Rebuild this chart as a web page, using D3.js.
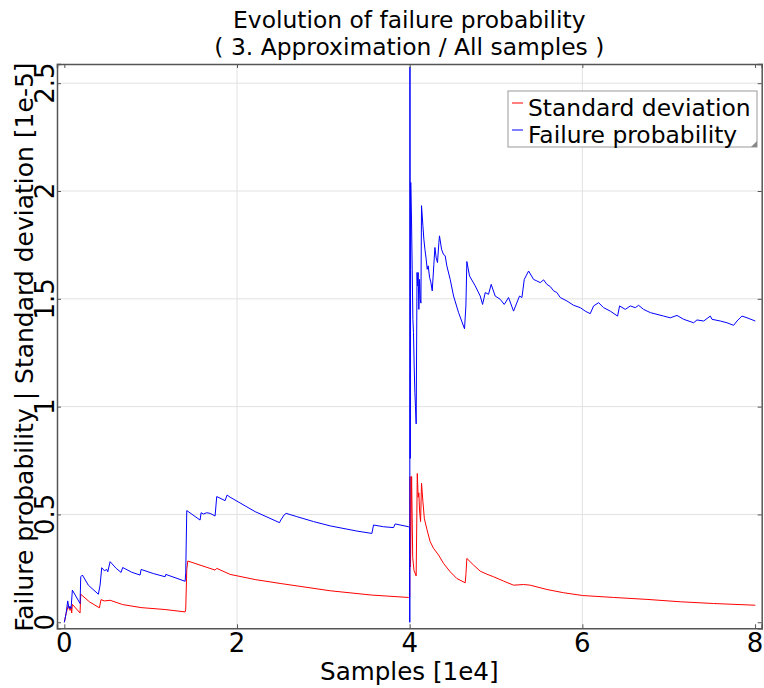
<!DOCTYPE html>
<html lang="en">
  <head>
    <meta charset="UTF-8" />
    <title>Evolution of failure probability</title>
    <style>
      body { margin: 0; background: #fff; }
      svg text { font-family: "DejaVu Sans", sans-serif; fill: #000; }
    </style>
  </head>
  <body>
    <svg width="764" height="688"></svg>

    <script src="https://cdn.jsdelivr.net/npm/d3@7"></script>

    <script>
      // samples [1e4] / value [1e-5]
      const failureX = [
        0, 0.02, 0.039, 0.054, 0.066, 0.078, 0.093, 0.182, 0.19, 0.209, 0.278, 0.394, 0.414, 0.433,
        0.464, 0.491, 0.503, 0.53, 0.6, 0.657, 0.676, 0.78, 0.877, 0.889, 1.03, 1.167, 1.175, 1.399,
        1.406, 1.418, 1.572, 1.584, 1.611, 1.65, 1.688, 1.746, 1.765, 1.862, 1.885, 1.92, 2.21, 2.492,
        2.507, 2.546, 2.569, 2.692, 2.886, 3.079, 3.388, 3.562, 3.581, 3.697, 3.813, 3.832, 3.986,
        3.999, 4.001, 4.003, 4.006, 4.012, 4.021, 4.029, 4.037, 4.044, 4.052, 4.06, 4.067, 4.075,
        4.085, 4.091, 4.098, 4.106, 4.114, 4.122, 4.13, 4.137, 4.153, 4.164, 4.176, 4.191, 4.203,
        4.214, 4.23, 4.245, 4.261, 4.28, 4.292, 4.307, 4.322, 4.338, 4.345, 4.369, 4.392, 4.411,
        4.43, 4.469, 4.508, 4.566, 4.635, 4.651, 4.662, 4.693, 4.759, 4.817, 4.844, 4.875, 4.913,
        4.944, 4.99, 5.048, 5.095, 5.145, 5.203, 5.272, 5.3, 5.327, 5.377, 5.435, 5.473, 5.512,
        5.551, 5.589, 5.628, 5.667, 5.705, 5.744, 5.821, 5.898, 5.976, 6.033, 6.091, 6.13, 6.188,
        6.246, 6.323, 6.408, 6.431, 6.497, 6.555, 6.613, 6.651, 6.709, 6.787, 6.864, 6.941, 7.018,
        7.096, 7.173, 7.289, 7.327, 7.405, 7.482, 7.501, 7.598, 7.675, 7.752, 7.791, 7.849, 7.907,
        8.003
      ];
      const failureY = [
        0, 0.04, 0.099, 0.064, 0.074, 0.064, 0.149, 0.087, 0.211, 0.219, 0.172, 0.13, 0.172, 0.253,
        0.239, 0.245, 0.234, 0.281, 0.25, 0.231, 0.254, 0.232, 0.219, 0.245, 0.226, 0.211, 0.222, 0.19,
        0.229, 0.518, 0.474, 0.508, 0.502, 0.508, 0.505, 0.493, 0.583, 0.564, 0.59, 0.58, 0.513, 0.462,
        0.474, 0.498, 0.505, 0.49, 0.467, 0.447, 0.423, 0.412, 0.451, 0.443, 0.439, 0.456, 0.443,
        0.44, 0.0, 2.575, 0.76, 2.04, 1.87, 1.637, 1.405, 1.344, 1.188, 1.064, 1.0, 0.92,
        1.622, 1.56, 1.622, 1.451, 1.59, 1.498, 1.48, 1.932, 1.839, 1.777, 1.73, 1.684, 1.637,
        1.653, 1.6, 1.577, 1.537, 1.66, 1.738, 1.69, 1.668, 1.76, 1.792, 1.73, 1.705, 1.7,
        1.653, 1.59, 1.513, 1.436, 1.361, 1.467, 1.673, 1.606, 1.56, 1.513, 1.474, 1.529, 1.521,
        1.567, 1.513, 1.498, 1.474, 1.506, 1.443, 1.513, 1.506, 1.59, 1.629, 1.59, 1.583, 1.575,
        1.588, 1.567, 1.557, 1.537, 1.529, 1.506, 1.49, 1.47, 1.459, 1.443, 1.431, 1.467, 1.482,
        1.459, 1.443, 1.42, 1.467, 1.451, 1.467, 1.459, 1.47, 1.451, 1.436, 1.428, 1.42, 1.412,
        1.423, 1.405, 1.389, 1.402, 1.397, 1.42, 1.405, 1.397, 1.389, 1.377, 1.397, 1.42, 1.412,
        1.397
      ];
      const stdX = [
        0, 0.02, 0.047, 0.066, 0.078, 0.085, 0.093, 0.182, 0.19, 0.29, 0.406, 0.425, 0.464, 0.53,
        0.676, 0.889, 1.167, 1.399, 1.406, 1.418, 1.43, 1.746, 1.765, 1.92, 2.21, 2.499, 3.079, 3.562,
        3.986, 4.0, 4.004, 4.009, 4.022, 4.035, 4.05, 4.075, 4.088, 4.098, 4.106, 4.114, 4.126,
        4.137, 4.153, 4.17, 4.2, 4.237, 4.276, 4.334, 4.392, 4.469, 4.546, 4.643, 4.652, 4.662,
        4.74, 4.817, 4.894, 4.971, 5.087, 5.203, 5.319, 5.396, 5.589, 5.782, 6.003, 6.362, 6.748,
        7.134, 7.52, 8.003
      ];
      const stdY = [
        0, 0.04, 0.079, 0.055, 0.07, 0.043, 0.083, 0.043, 0.13, 0.095, 0.067, 0.105, 0.099, 0.102,
        0.082, 0.068, 0.059, 0.048, 0.06, 0.245, 0.284, 0.242, 0.25, 0.222, 0.198, 0.18, 0.146, 0.126,
        0.115, 0.117, 0.676, 0.257, 0.676, 0.3, 0.24, 0.215, 0.69, 0.58, 0.6, 0.52, 0.467,
        0.645, 0.56, 0.48, 0.43, 0.374, 0.343, 0.312, 0.273, 0.234, 0.203, 0.183, 0.226, 0.296,
        0.265, 0.237, 0.223, 0.211, 0.191, 0.172, 0.175, 0.172, 0.152, 0.137, 0.124, 0.115, 0.106,
        0.095, 0.087, 0.079
      ];
      const xTicks = [0, 2, 4, 6, 8];
      const yTicks = [0, 0.5, 1, 1.5, 2, 2.5];
      const seriesNames = ["Standard deviation", "Failure probability"];
      const seriesColors = ["#ff0000", "#0000ff"];

      const svg = d3.select("svg"),
        plotLeft = 57,
        plotRight = 761.7,
        plotTop = 64,
        plotBottom = 628.3;

      const x = d3.scaleLinear().domain([-0.085, 8.077]).range([plotLeft, plotRight]);
      const y = d3.scaleLinear().domain([-0.028, 2.589]).range([plotBottom, plotTop]);

      // grid (not at the zero lines / right edge)
      svg.append("g")
        .selectAll("line")
        .data(xTicks.filter((d) => d > 0 && d < 8))
        .enter()
        .append("line")
        .attr("x1", (d) => x(d)).attr("x2", (d) => x(d))
        .attr("y1", plotTop).attr("y2", plotBottom)
        .attr("stroke", "#e2e2e2");
      svg.append("g")
        .selectAll("line")
        .data(yTicks.filter((d) => d > 0))
        .enter()
        .append("line")
        .attr("x1", plotLeft).attr("x2", plotRight)
        .attr("y1", (d) => y(d)).attr("y2", (d) => y(d))
        .attr("stroke", "#e2e2e2");

      svg.append("clipPath").attr("id", "plot")
        .append("rect")
        .attr("x", plotLeft).attr("y", plotTop)
        .attr("width", plotRight - plotLeft).attr("height", plotBottom - plotTop);

      const line = d3.line().x((d) => x(d[0])).y((d) => y(d[1]));
      const series = [d3.zip(stdX, stdY), d3.zip(failureX, failureY)];

      svg.append("g")
        .attr("clip-path", "url(#plot)")
        .selectAll("path")
        .data(series)
        .enter()
        .append("path")
        .attr("d", line)
        .attr("fill", "none")
        .attr("stroke", (d, i) => seriesColors[i])
        .attr("stroke-width", 1);

      // axes: ticks point inwards, on all four sides
      const xBottom = d3.axisBottom(x).tickValues(xTicks).tickSize(-4).tickFormat("");
      const xTop = d3.axisTop(x).tickValues(xTicks).tickSize(-4).tickFormat("");
      const yLeft = d3.axisLeft(y).tickValues(yTicks).tickSize(-4).tickFormat("");
      const yRight = d3.axisRight(y).tickValues(yTicks).tickSize(-4).tickFormat("");

      [[xBottom, "0," + plotBottom], [xTop, "0," + plotTop], [yLeft, plotLeft + ",0"], [yRight, plotRight + ",0"]]
        .forEach(([ax, tr]) => {
          const g = svg.append("g").attr("transform", "translate(" + tr + ")").call(ax);
          g.select(".domain").attr("stroke", "#555").attr("stroke-width", 1.5);
          g.selectAll(".tick line").attr("stroke", "#555");
        });

      // tick labels
      svg.append("g")
        .selectAll("text")
        .data(xTicks)
        .enter()
        .append("text")
        .attr("x", (d) => x(d))
        .attr("y", 652)
        .attr("text-anchor", "middle")
        .style("font-size", "26px")
        .text((d) => d);
      svg.append("g")
        .selectAll("text")
        .data(yTicks)
        .enter()
        .append("text")
        .attr("transform", (d) => "translate(54," + y(d) + ") rotate(-90)")
        .attr("text-anchor", "middle")
        .style("font-size", "26px")
        .text((d) => d);

      // titles
      const cx = (plotLeft + plotRight) / 2;
      svg.append("text").attr("x", cx).attr("y", 28)
        .attr("text-anchor", "middle").style("font-size", "23.4px")
        .text("Evolution of failure probability");
      svg.append("text").attr("x", cx).attr("y", 55)
        .attr("text-anchor", "middle").style("font-size", "23.4px")
        .text("( 3. Approximation / All samples )");
      svg.append("text").attr("x", cx).attr("y", 680)
        .attr("text-anchor", "middle").style("font-size", "24.6px")
        .text("Samples [1e4]");
      svg.append("text")
        .attr("transform", "translate(33," + (plotTop + plotBottom + 2) / 2 + ") rotate(-90)")
        .attr("text-anchor", "middle").style("font-size", "25px")
        .text("Failure probability | Standard deviation [1e-5]");

      // legend
      const legend = svg.append("g").attr("transform", "translate(508,91)");
      legend.append("rect")
        .attr("width", 249).attr("height", 56)
        .attr("fill", "#fff").attr("stroke", "#999");
      const items = legend.selectAll("g.item")
        .data(seriesNames)
        .enter()
        .append("g")
        .attr("class", "item")
        .attr("transform", (d, i) => "translate(0," + i * 27 + ")");
      items.append("line")
        .attr("x1", 4).attr("x2", 15).attr("y1", 12).attr("y2", 12)
        .attr("stroke", (d, i) => seriesColors[i]);
      items.append("text")
        .attr("x", 20).attr("y", 25)
        .style("font-size", "23.4px")
        .text((d) => d);
      legend.append("path")
        .attr("d", "M249,50L249,56L243,56Z")
        .attr("fill", "#888");
    </script>
  </body>
</html>
